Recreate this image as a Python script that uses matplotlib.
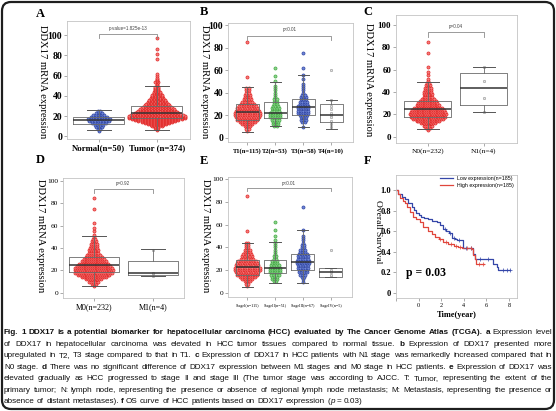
import matplotlib
matplotlib.use("Agg")
import matplotlib.pyplot as plt
from matplotlib.patches import FancyBboxPatch
import numpy as np

W, H = 556, 411
SERIF = ['Liberation Serif', 'DejaVu Serif']
SANS = ['Liberation Sans', 'DejaVu Sans']
CAPF = ['Liberation Sans Narrow', 'Liberation Sans', 'DejaVu Sans']

RED_F, RED_E = '#f47c7c', '#e0201f'
GRN_F, GRN_E = '#8fd18f', '#3aa83a'
BLU_F, BLU_E = '#6f86d6', '#2a3f9e'
GRY_F, GRY_E = '#e6e6e6', '#9a9a9a'

# ---------------- DATA ----------------
a_labels = ['Normal(n=50)', 'Tumor (n=374)']
a_normal_lv = [5, 7, 9, 11, 13, 15, 17, 19, 21, 23, 25]
a_normal_ct = [1, 2, 3, 4, 6, 8, 9, 7, 5, 3, 2]
a_tumor_lv = [6, 7, 8, 9, 10, 11, 12, 13, 14, 15, 16, 17, 18, 19, 20, 21, 22, 23, 24, 25,
              26, 27, 28, 29, 30, 31, 32, 33, 34, 35, 36, 37, 38, 39, 40, 41, 42, 43, 44, 45,
              46, 47, 48, 49, 50, 51, 52, 53, 54, 55, 56, 57, 58, 60, 62, 76, 81, 86, 97]
a_tumor_ct = [1, 1, 2, 2, 4, 5, 7, 9, 11, 13, 15, 17, 19, 19, 19, 18, 16, 15, 14, 13,
              12, 12, 11, 10, 9, 9, 8, 7, 7, 6, 6, 5, 5, 4, 4, 4, 3, 3, 3, 2,
              2, 2, 2, 2, 1, 1, 1, 1, 2, 1, 1, 1, 1, 1, 1, 1, 1, 1, 1]
a_q1 = [12.8, 18.0]
a_med = [16.0, 23.0]
a_q3 = [18.8, 29.7]
a_lo = [6.0, 6.5]
a_hi = [25.7, 50.0]
a_p = 'p-value=1.825e-13'

b_labels = ['T1(n=115)', 'T2(n=53)', 'T3(n=58)', 'T4(n=10)']
b_t1_lv = [6, 8, 10, 12, 14, 16, 18, 20, 22, 24, 26, 28, 30, 32, 34, 36, 38, 40, 42, 44, 54, 85]
b_t1_ct = [1, 2, 3, 5, 7, 9, 10, 11, 11, 10, 9, 8, 6, 5, 4, 3, 3, 2, 2, 2, 1, 1]
b_t2_lv = [10, 12, 14, 16, 18, 20, 22, 24, 26, 28, 30, 32, 34, 36, 38, 40, 42, 44, 46, 50, 55, 62]
b_t2_ct = [2, 3, 3, 4, 5, 5, 5, 4, 4, 3, 2, 2, 2, 1, 1, 1, 1, 1, 1, 1, 1, 1]
b_t3_lv = [9, 14, 16, 18, 20, 22, 24, 26, 28, 30, 32, 34, 36, 38, 40, 42, 44, 46, 48, 52, 56, 62, 75]
b_t3_ct = [1, 2, 3, 3, 4, 5, 5, 5, 5, 4, 4, 3, 3, 2, 1, 1, 1, 1, 1, 1, 1, 1, 1]
b_t4_lv = [9, 12, 15, 18, 20, 22, 25, 28, 33, 60]
b_t4_ct = [1, 1, 1, 1, 1, 1, 1, 1, 1, 1]
b_q1 = [15.7, 17.2, 20.0, 14.2]
b_med = [22.5, 21.6, 27.2, 20.0]
b_q3 = [29.6, 31.4, 34.3, 29.6]
b_lo = [5.3, 9.8, 9.2, 8.0]
b_hi = [45.0, 49.7, 55.6, 33.5]
b_p = 'p<0.01'

c_labels = ['N0(n=232)', 'N1(n=4)']
c_n0_lv = [6, 8, 10, 12, 14, 16, 18, 20, 22, 24, 26, 28, 30, 32, 34, 36, 38, 40, 42, 44,
           46, 48, 50, 52, 55, 58, 62, 75, 85]
c_n0_ct = [1, 3, 6, 9, 14, 18, 21, 22, 21, 19, 17, 14, 12, 10, 8, 6, 6, 5, 4, 4,
           3, 2, 1, 1, 1, 1, 1, 1, 1]
c_n1_lv = [22, 35, 50, 62]
c_n1_ct = [1, 1, 1, 1]
c_q1 = [18.0, 28.4]
c_med = [24.5, 43.3]
c_q3 = [32.0, 56.7]
c_lo = [6.6, 21.8]
c_hi = [49.0, 62.0]
c_p = 'p=0.04'

d_labels = ['M0(n=232)', 'M1(n=4)']
d_m0_lv = [6, 8, 10, 12, 14, 16, 18, 20, 22, 24, 26, 28, 30, 32, 34, 36, 38, 40, 42, 44,
           46, 48, 50, 52, 55, 58, 62, 75, 85]
d_m0_ct = [1, 3, 6, 9, 14, 18, 21, 22, 21, 19, 17, 14, 12, 10, 8, 6, 6, 5, 4, 4,
           3, 2, 1, 1, 1, 1, 1, 1, 1]
d_m1_lv = [15, 16, 18, 38]
d_m1_ct = [1, 1, 1, 1]
d_q1 = [18.8, 15.8]
d_med = [24.8, 17.4]
d_q3 = [32.2, 28.4]
d_lo = [6.3, 15.0]
d_hi = [50.8, 38.8]
d_p = 'p=0.92'

e_labels = ['StageI(n=115)', 'StageII(n=51)', 'StageIII(n=67)', 'StageIV(n=5)']
e_s1_lv = [6, 8, 10, 12, 14, 16, 18, 20, 22, 24, 26, 28, 30, 32, 34, 36, 38, 40, 42, 44, 54, 85]
e_s1_ct = [1, 2, 3, 5, 7, 9, 10, 11, 11, 10, 9, 8, 6, 5, 4, 3, 3, 2, 2, 2, 1, 1]
e_s2_lv = [10, 12, 14, 16, 18, 20, 22, 24, 26, 28, 30, 32, 34, 36, 38, 40, 42, 44, 46, 50, 55, 62]
e_s2_ct = [2, 3, 3, 4, 5, 5, 5, 4, 3, 3, 2, 2, 1, 1, 1, 1, 1, 1, 1, 1, 1, 1]
e_s3_lv = [9, 12, 14, 16, 18, 20, 22, 24, 26, 28, 30, 32, 34, 36, 38, 40, 42, 44, 46, 48, 50, 55, 75]
e_s3_ct = [1, 1, 2, 3, 4, 4, 5, 5, 6, 6, 5, 5, 4, 3, 3, 2, 2, 1, 1, 1, 1, 1, 1]
e_s4_lv = [15, 16, 18, 20, 38]
e_s4_ct = [1, 1, 1, 1, 1]
e_q1 = [15.6, 17.0, 20.0, 14.0]
e_med = [22.3, 22.0, 27.3, 18.0]
e_q3 = [28.8, 28.8, 33.8, 21.5]
e_lo = [5.3, 8.3, 8.6, 14.0]
e_hi = [44.0, 45.0, 55.0, 21.5]
e_p = 'p<0.01'

f_low_t = [-2.0, -1.8, -1.5, -1.2, -0.9, -0.6, -0.45, -0.2, 0.0, 0.2, 0.45, 0.8, 1.2, 1.6,
           1.9, 2.2, 2.45, 2.65, 2.95, 3.2, 3.4, 3.9, 4.85, 4.95, 6.6, 6.9, 7.05, 8.1]
f_low_s = [1.0, 0.965, 0.935, 0.91, 0.87, 0.835, 0.806, 0.78, 0.758, 0.74, 0.726, 0.715, 0.703, 0.69,
           0.661, 0.619, 0.60, 0.58, 0.532, 0.52, 0.51, 0.44, 0.38, 0.33, 0.28, 0.255, 0.22, 0.22]
f_high_t = [-2.0, -1.85, -1.64, -1.4, -1.2, -1.0, -0.76, -0.46, -0.2, 0.13, 0.43, 0.87, 1.2,
            1.47, 1.8, 2.2, 2.6, 3.1, 3.5, 3.84, 4.73, 4.85, 4.95, 5.05, 5.75]
f_high_s = [1.0, 0.96, 0.92, 0.895, 0.87, 0.83, 0.79, 0.74, 0.715, 0.69, 0.645, 0.597, 0.57,
            0.548, 0.525, 0.50, 0.48, 0.458, 0.445, 0.435, 0.429, 0.371, 0.33, 0.28, 0.28]
f_low_cens = [2.3, 2.8, 3.1, 3.6, 4.2, 4.6, 5.4, 6.1, 7.5, 7.8, 8.05]
f_high_cens = [1.9, 2.4, 2.9, 3.3, 3.7, 4.3, 4.6, 5.3, 5.7]
f_leg = ['Low expression(n=185)', 'High expression(n=185)']
f_p = 'p = 0.03'

caption = [
    [("Fig. 1 DDX17 is a potential biomarker for hepatocellular carcinoma (HCC) evaluated by The Cancer Genome Atlas (TCGA).", 'b'),
     (" a", 'b'), (" Expression level", 'n')],
    [("of DDX17 in hepatocellular carcinoma was elevated in HCC tumor tissues compared to normal tissue.", 'n'),
     (" b", 'b'), (" Expression of DDX17 presented more", 'n')],
    [("upregulated in T2, T3 stage compared to that in T1.", 'n'), (" c", 'b'),
     (" Expression of DDX17 in HCC patients with N1 stage was remarkedly increased compared that in", 'n')],
    [("N0 stage.", 'n'), (" d", 'b'),
     (" There was no significant difference of DDX17 expression between M1 stages and M0 stage in HCC patients.", 'n'),
     (" e", 'b'), (" Expression of DDX17 was", 'n')],
    [("elevated gradually as HCC progressed to stage II and stage III (The tumor stage was according to AJCC. T: Tumor, representing the extent of the", 'n')],
    [("primary tumor; N: lymph node, representing the presence or absence of regional lymph node metastasis; M: Metastasis, representing the presence or", 'n')],
    [("absence of distant metastases).", 'n'), (" f", 'b'),
     (" OS curve of HCC patients based on DDX17 expression (", 'n'), ("p", 'i'), (" = 0.03)", 'n')],
]

# ---------------- FIGURE ----------------
fig = plt.figure(figsize=(W / 100, H / 100), dpi=100)


def ax_at(x0, y0, x1, y1):
    return fig.add_axes([x0 / W, 1 - y1 / H, (x1 - x0) / W, (y1 - y0) / H])


def ftext(x, y, s, **kw):
    return fig.text(x / W, 1 - y / H, s, **kw)


def swarm(ax, pos, levels, counts, dx, fc, ec, s=5):
    xs, ys = [], []
    for v, n in zip(levels, counts):
        for i in range(n):
            xs.append(pos + (i - (n - 1) / 2) * dx)
            ys.append(v)
    ax.scatter(xs, ys, s=s, facecolor=fc, edgecolor=ec, linewidths=0.45, zorder=3)


def boxes(ax, q1, med, q3, lo, hi, width, capw):
    stats = [dict(q1=a, med=b, q3=c, whislo=d, whishi=e, fliers=[])
             for a, b, c, d, e in zip(q1, med, q3, lo, hi)]
    pos = list(range(1, len(stats) + 1))
    ax.bxp(stats, positions=pos, widths=width, capwidths=capw, showfliers=False,
           manage_ticks=False, zorder=4,
           boxprops=dict(color='#6a6a6a', lw=0.6),
           medianprops=dict(color='#333333', lw=1.1),
           whiskerprops=dict(color='#6a6a6a', lw=0.6),
           capprops=dict(color='#555555', lw=0.7))


def bracket(ax, x1, x2, y, drop, txt, ty, fs):
    ax.plot([x1, x1, x2, x2], [y - drop, y, y, y - drop], color='#8a8a8a', lw=0.6, zorder=5)
    ax.text((x1 + x2) / 2, ty, txt, ha='center', va='center', fontsize=fs,
            family=SANS, color='#444444')


def style(ax, xlim, ylim, yticks, labels, ytick_fs, xtick_fs, ybold=True, xbold=False):
    ax.set_xlim(*xlim)
    ax.set_ylim(*ylim)
    for sp in ax.spines.values():
        sp.set_color('#c4c4c4')
        sp.set_linewidth(0.6)
    ax.set_yticks(yticks)
    ax.set_yticklabels([str(v) for v in yticks], fontsize=ytick_fs, family=SERIF,
                       fontweight='bold' if ybold else 'normal')
    ax.set_xticks(list(range(1, len(labels) + 1)))
    ax.set_xticklabels(labels, fontsize=xtick_fs, family=SERIF,
                       fontweight='bold' if xbold else 'normal')
    ax.tick_params(length=2, width=0.5, color='#888888', pad=1.5)


axA = ax_at(67, 21, 190, 139)
swarm(axA, 1, a_normal_lv, a_normal_ct, 0.048, BLU_F, BLU_E)
swarm(axA, 2, a_tumor_lv, a_tumor_ct, 0.053, RED_F, RED_E)
boxes(axA, a_q1, a_med, a_q3, a_lo, a_hi, 0.88, 0.4)
bracket(axA, 1, 2, 101, 3.6, a_p, 106.5, 3.3)
style(axA, (0.45, 2.57), (-2.5, 114), [0, 20, 40, 60, 80, 100], a_labels, 7, 6.3, True, True)

axB = ax_at(228, 23, 353, 142)
swarm(axB, 1, b_t1_lv, b_t1_ct, 0.09, RED_F, RED_E)
swarm(axB, 2, b_t2_lv, b_t2_ct, 0.09, GRN_F, GRN_E)
swarm(axB, 3, b_t3_lv, b_t3_ct, 0.09, BLU_F, BLU_E)
swarm(axB, 4, b_t4_lv, b_t4_ct, 0.09, GRY_F, GRY_E, s=3)
boxes(axB, b_q1, b_med, b_q3, b_lo, b_hi, 0.82, 0.4)
bracket(axB, 1, 4, 90.5, 3.8, b_p, 96, 3.3)
style(axB, (0.31, 4.77), (-4, 101.8), [0, 20, 40, 60, 80, 100], b_labels, 7, 4.7, True, True)
axB.tick_params(axis='x', pad=2.5)

axC = ax_at(396, 15, 517, 143)
swarm(axC, 1, c_n0_lv, c_n0_ct, 0.031, RED_F, RED_E)
swarm(axC, 2, c_n1_lv, c_n1_ct, 0.03, GRY_F, GRY_E, s=3)
boxes(axC, c_q1, c_med, c_q3, c_lo, c_hi, 0.84, 0.4)
bracket(axC, 1, 2, 93.5, 4.0, c_p, 98.5, 3.3)
style(axC, (0.43, 2.59), (-5.6, 109), [0, 20, 40, 60, 80, 100], c_labels, 6.5, 5.3, True, False)

axD = ax_at(63, 178, 184, 298)
swarm(axD, 1, d_m0_lv, d_m0_ct, 0.031, RED_F, RED_E)
swarm(axD, 2, d_m1_lv, d_m1_ct, 0.03, GRY_F, GRY_E, s=3)
boxes(axD, d_q1, d_med, d_q3, d_lo, d_hi, 0.85, 0.4)
bracket(axD, 1, 2, 92.8, 3.5, d_p, 98, 3.3)
style(axD, (0.48, 2.525), (-4.7, 102.7), [0, 20, 40, 60, 80, 100], d_labels, 5.3, 5.8, False, False)

axE = ax_at(228, 177, 352, 297)
swarm(axE, 1, e_s1_lv, e_s1_ct, 0.09, RED_F, RED_E)
swarm(axE, 2, e_s2_lv, e_s2_ct, 0.09, GRN_F, GRN_E)
swarm(axE, 3, e_s3_lv, e_s3_ct, 0.09, BLU_F, BLU_E)
swarm(axE, 4, e_s4_lv, e_s4_ct, 0.09, GRY_F, GRY_E, s=3)
boxes(axE, e_q1, e_med, e_q3, e_lo, e_hi, 0.82, 0.4)
bracket(axE, 1, 4, 91.8, 2.5, e_p, 96.5, 3.3)
style(axE, (0.31, 4.77), (-3.8, 101.8), [0, 20, 40, 60, 80, 100], e_labels, 5.3, 3.0, False, False)
axE.tick_params(axis='x', pad=3)

axF = ax_at(396, 175, 517, 298)
lt, ls = np.array(f_low_t), np.array(f_low_s)
ht, hs = np.array(f_high_t), np.array(f_high_s)
l1, = axF.step(lt, ls, where='post', color='#3446a8', lw=0.9, label=f_leg[0])
l2, = axF.step(ht, hs, where='post', color='#e0463c', lw=0.9, label=f_leg[1])
for tt, ss, cens, col in [(lt, ls, f_low_cens, '#3446a8'), (ht, hs, f_high_cens, '#e0463c')]:
    cy = [ss[np.searchsorted(tt, c, side='right') - 1] for c in cens]
    axF.plot(cens, cy, '+', color=col, ms=2.5, mew=0.5)
axF.set_xlim(-2, 8.7)
axF.set_ylim(-0.048, 1.145)
for sp in axF.spines.values():
    sp.set_color('#c4c4c4')
    sp.set_linewidth(0.6)
axF.set_yticks([0, 0.2, 0.4, 0.6, 0.8, 1.0])
axF.set_yticklabels(['0', '0.2', '0.4', '0.6', '0.8', '1.0'], fontsize=6, family=SERIF, fontweight='bold')
axF.set_xticks([-2, 0, 2, 4, 6, 8])
axF.set_xticklabels(['', '0', '2', '4', '6', '8'], fontsize=4.5, family=SERIF)
axF.tick_params(length=2, width=0.5, color='#888888', pad=1.5)
axF.set_xlabel('Time(year)', fontsize=6, family=SERIF, fontweight='bold', labelpad=2)
axF.legend(handles=[l1, l2], loc='upper right', bbox_to_anchor=(1.0, 1.02), frameon=False,
           prop=dict(family=SANS, size=3.8), handlelength=2.6, handletextpad=0.6,
           labelspacing=0.35, borderaxespad=0.3)
axF.text(0.08, 0.2, f_p, transform=axF.transAxes, fontsize=8.5, family=SERIF,
         fontweight='bold', ha='left', va='center')

for lx, ly, L in [(40, 14, 'A'), (204, 12, 'B'), (368, 12, 'C'),
                  (40, 160, 'D'), (204, 161, 'E'), (368, 161, 'F')]:
    ftext(lx, ly, L, fontsize=9, family=SERIF, fontweight='bold', ha='center', va='center')
for lx, ly in [(42, 82), (205, 82), (368, 80), (40, 236), (206, 236)]:
    ftext(lx, ly, 'DDX17 mRNA expression', fontsize=7.6, family=SERIF, rotation=-90,
          ha='center', va='center')
ftext(378, 232, 'Overall Survival', fontsize=6.8, family=SERIF, rotation=-90,
      ha='center', va='center')

fig.patches.append(FancyBboxPatch((0.02, 0.02), (W - 4) / 100, (H - 4) / 100,
                                  boxstyle='round,pad=0,rounding_size=0.09',
                                  transform=fig.dpi_scale_trans, fill=False,
                                  ec='#1e1e1e', lw=1.6, figure=fig))

# ---------------- caption (justified) ----------------
renderer = fig.canvas.get_renderer()


def mk(s, st, fs):
    return fig.text(0, 0, s, fontsize=fs, family=CAPF, color='#111111',
                    fontweight='bold' if st == 'b' else 'normal',
                    fontstyle='italic' if st == 'i' else 'normal')


def tw_of(s, st, fs):
    t = mk(s, st, fs)
    w = t.get_window_extent(renderer).width
    t.remove()
    return w


def space_w(fs):
    return tw_of('a a', 'n', fs) - tw_of('aa', 'n', fs)


def tokenize(segs):
    toks = []
    new = True
    for txt, st in segs:
        parts = txt.split(' ')
        for k, p in enumerate(parts):
            if k > 0:
                new = True
            if p == '':
                continue
            if new or not toks:
                toks.append([(p, st)])
            else:
                toks[-1].append((p, st))
            new = False
    return toks


def widths(toks, fs):
    return [[tw_of(p, st, fs) for p, st in tok] for tok in toks]


def natural(toks, fs):
    ws = widths(toks, fs)
    return sum(sum(w) for w in ws) + space_w(fs) * (len(toks) - 1)


X0, X1 = 4.0, 552.0
TARGET = X1 - X0
all_toks = [tokenize(seg) for seg in caption]
fs = 6.0
for _ in range(4):
    nmax = max(natural(t, fs) for t in all_toks[1:-1])
    fs = min(7.2, fs * 0.99 * TARGET / nmax)
line_fs = []
for li, toks in enumerate(all_toks):
    lfs = fs
    if li < len(all_toks) - 1:
        for _ in range(3):
            n = natural(toks, lfs)
            if n <= 0.995 * TARGET:
                break
            lfs = lfs * 0.99 * TARGET / n
    line_fs.append(lfs)

base_y = [334.0, 345.5, 357.0, 368.5, 380.0, 391.5, 403.0]
for li, toks in enumerate(all_toks):
    lfs = line_fs[li]
    ws = widths(toks, lfs)
    tw = [sum(w) for w in ws]
    if li < len(all_toks) - 1 and len(toks) > 1:
        gap = (TARGET - sum(tw)) / (len(toks) - 1)
    else:
        gap = space_w(lfs)
    x = X0
    for tok, wl in zip(toks, ws):
        xx = x
        for (p, st), w in zip(tok, wl):
            t = mk(p, st, lfs)
            t.set_position((xx / W, 1 - base_y[li] / H))
            t.set_va('baseline')
            xx += w
        x += sum(wl) + gap

fig.savefig('out.png', dpi=100)
